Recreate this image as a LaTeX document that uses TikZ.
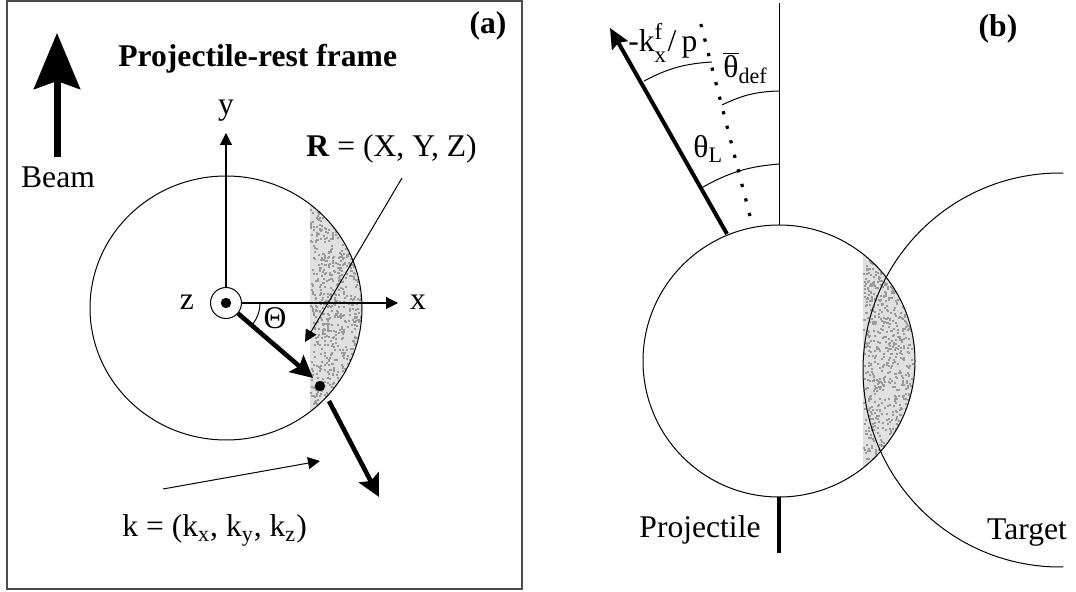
\documentclass[tikz,border=0pt]{standalone}
\usepackage{fontspec}
\setmainfont{Liberation Serif}
\usetikzlibrary{arrows.meta}
\tikzset{
  txt/.style={font=\fontsize{15.8}{18}\selectfont,inner sep=0pt},
  bftxt/.style={inner sep=0pt,font=\fontsize{15.8}{18}\selectfont\bfseries},
  axisarrow/.style={line width=0.55pt,-{Triangle[length=6pt,width=6pt]}},
  thickarrow/.style={line width=2.3pt,-{Stealth[length=11pt,width=11pt,inset=2pt]}},
  stipple/.style={fill=black!12},
  speck/.style={fill=black!40},
}
\pgfmathsetseed{17}
\begin{document}
\begin{tikzpicture}[x=0.5pt,y=-0.5pt]
\useasboundingbox (0,0) rectangle (1076,592);
%riquadro (a)
\draw[line width=0.9pt,black!70] (7,1) rectangle (522,589);
\node[bftxt,anchor=base] (lblA) at (488,34) {(a)};
\node[bftxt,anchor=base west] (title) at (118,67) {Projectile-rest frame};
%fascio
\coordinate (beamS) at (57,157);
\coordinate (beamE) at (57,33);
\draw[line width=3.5pt,-{Stealth[length=28pt,width=23pt,inset=4pt]}](beamS)--(beamE);
\node[txt,anchor=base] (beam) at (58,188) {Beam};
%proiettile (a)
\coordinate (Ac) at (226,308);
\begin{scope}
  \clip (Ac) ellipse [x radius=136,y radius=132];
  \fill[stipple] (310,150) rectangle (380,460);
  \foreach \i in {1,...,900}
    \fill[speck] ({310+55*rnd},{195+225*rnd}) rectangle ++(2,2);
\end{scope}
\draw[line width=0.5pt] (Ac) ellipse [x radius=136,y radius=132];
%assi
\node[draw,circle,line width=0.5pt,fill=white,minimum size=15.5pt,inner sep=0pt] (zc) at (226,303) {};
\fill (zc.center) circle[radius=2.6pt];
\coordinate (ytip) at (226,133);
\coordinate (xtip) at (398,303);
\draw[axisarrow](zc.north)--(ytip);
\draw[axisarrow](zc.east)--(xtip);
\node[txt,anchor=base] (ylbl) at (226,115) {y};
\node[txt,anchor=base] (xlbl) at (418,310) {x};
\node[txt,anchor=base] (zlbl) at (187,310) {z};
%angolo
\draw[line width=0.5pt] (zc.center) ++(0:34) arc[start angle=0,end angle=41,radius=34];
\node[txt,anchor=base] (Thlbl) at (275,329) {Θ};
%vettori
\coordinate (Rtip) at (313,378);
\coordinate (Rpt) at (320,386);
\fill (Rpt) circle[radius=2.6pt];
\draw[thickarrow](zc.-41)--(Rtip);
\coordinate (kS) at (329,401);
\coordinate (kE) at (379,497);
\draw[thickarrow](kS)--(kE);
%etichette R e k
\node[txt,anchor=base west] (Rlbl) at (306,157) {\textbf{R} = (X, Y, Z)};
\coordinate (Rfrom) at (402,178);
\coordinate (Rto) at (305,342);
\draw[axisarrow,line width=0.5pt](Rfrom)--(Rto);
\node[txt,anchor=base west] (klbl) at (122,537) {k = (k\textsubscript{x}, k\textsubscript{y}, k\textsubscript{z})};
\coordinate (kfrom) at (163,489);
\coordinate (kto) at (320,461);
\draw[axisarrow,line width=0.5pt](kfrom)--(kto);
%proiettile e bersaglio (b)
\coordinate (Bc) at (779,361);
\coordinate (Tc) at (1060,370);
\begin{scope}
  \clip (Bc) circle[radius=136];
  \fill[stipple] (863,200) rectangle (920,520);
  \foreach \i in {1,...,900}
    \fill[speck] ({863+55*rnd},{250+225*rnd}) rectangle ++(2,2);
\end{scope}
\draw[line width=0.5pt] (Bc) circle[radius=136];
\draw[line width=0.5pt] (Tc) ++(-89:197) arc[start angle=-89,end angle=-271,radius=197];
\node[txt,anchor=base] (proj) at (700,538) {Projectile};
\node[txt,anchor=base] (targ) at (1027,540) {Target};
\node[bftxt,anchor=base] (lblB) at (998,37) {(b)};
%asse fascio
\coordinate (Btop) at (779,225);
\coordinate (vtop) at (779,3);
\draw[line width=0.5pt](Btop)--(vtop);
\coordinate (Bbot) at (779,497);
\coordinate (Bend) at (779,553);
\draw[line width=2pt](Bbot)--(Bend);
%direzione uscente
\coordinate (pS) at (727,234);
\coordinate (pE) at (610,28);
\draw[line width=2pt,-{Stealth[length=10pt,width=9pt,inset=1.5pt]}](pS)--(pE);
%tratteggi
\coordinate (dS) at (750,216);
\coordinate (dE) at (698,13);
\draw[line width=1.6pt,dash pattern=on 1.6pt off 5.9pt](dS)--(dE);
%archi
\draw[line width=0.5pt] (703,187) to[bend left=12] (779,164);
\draw[line width=0.5pt] (722,105) to[bend left=12] (779,91);
\draw[line width=0.5pt] (644,81) to[bend left=12] (712,62);
\node[txt,anchor=base west] (kflbl) at (628,52) {-k\makebox[0pt][l]{\raisebox{-0.34em}{\fontsize{11.5}{12}\selectfont x}}\raisebox{0.4em}{\fontsize{11.5}{12}\selectfont f}\,/\,p};
\node[txt,anchor=base west] (thdef) at (723,78) {$\overline{\mbox{θ}}$\textsubscript{def}};
\node[txt,anchor=base west] (thL) at (693,158) {θ\textsubscript{L}};
\end{tikzpicture}
\end{document}
